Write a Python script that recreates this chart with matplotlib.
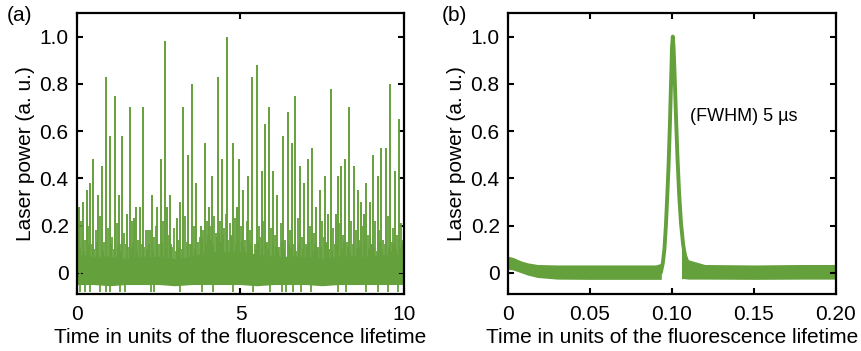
import matplotlib
matplotlib.use("Agg")
import matplotlib.pyplot as plt
import numpy as np

plt.rcParams['font.family'] = ['Liberation Sans', 'DejaVu Sans']

green = '#64a03c'

# ---- panel (a): spiky output ----
spike_t = [0.07, 0.19, 0.30, 0.40, 0.50, 0.65, 0.77, 0.90, 1.02, 1.15,
           1.27, 1.39, 1.53, 1.63, 1.75, 1.80, 1.93, 2.03, 2.29, 2.46,
           2.56, 2.68, 2.75, 2.85, 3.05, 3.15, 3.23, 3.39, 3.52, 3.64,
           3.80, 3.91, 4.03, 4.13, 4.30, 4.43, 4.60, 4.76, 4.88, 4.96,
           5.09, 5.24, 5.36, 5.49, 5.65, 5.75, 5.88, 6.00, 6.12, 6.31,
           6.44, 6.57, 6.67, 6.82, 6.94, 7.07, 7.19, 7.32, 7.43, 7.59,
           7.69, 7.77, 7.93, 7.99, 8.07, 8.20, 8.32, 8.47, 8.58, 8.68,
           8.78, 8.85, 8.95, 9.05, 9.19, 9.31, 9.44, 9.56, 9.71, 9.84]
spike_h = [0.28, 0.30, 0.35, 0.38, 0.48, 0.33, 0.45, 0.83, 0.58, 0.75,
           0.33, 0.58, 0.25, 0.70, 0.23, 0.28, 0.28, 0.70, 0.33, 0.28,
           0.48, 0.98, 0.28, 0.33, 0.23, 0.30, 0.70, 0.50, 0.80, 0.38,
           0.20, 0.55, 0.28, 0.41, 0.83, 0.48, 1.00, 0.55, 0.28, 0.48,
           0.35, 0.41, 0.83, 0.88, 0.43, 0.63, 0.70, 0.43, 0.33, 0.58,
           0.68, 0.55, 0.75, 0.45, 0.38, 0.48, 0.53, 0.28, 0.35, 0.41,
           0.25, 0.78, 0.25, 0.41, 0.45, 0.48, 0.70, 0.45, 0.35, 0.30,
           0.25, 0.38, 0.30, 0.50, 0.41, 0.53, 0.53, 0.80, 0.43, 0.65]

minor_t = [0.03, 0.13, 0.24, 0.35, 0.45, 0.57, 0.71, 0.83, 0.96, 1.08,
           1.21, 1.33, 1.45, 1.58, 1.69, 1.87, 1.98, 2.10, 2.17, 2.23,
           2.36, 2.41, 2.51, 2.62, 2.80, 2.92, 2.98, 3.10, 3.30, 3.45,
           3.58, 3.70, 3.75, 3.86, 3.97, 4.08, 4.19, 4.25, 4.37, 4.50,
           4.55, 4.68, 4.71, 4.82, 5.02, 5.15, 5.20, 5.30, 5.43, 5.56,
           5.60, 5.70, 5.82, 5.94, 6.06, 6.18, 6.24, 6.37, 6.50, 6.62,
           6.76, 6.88, 7.00, 7.13, 7.25, 7.38, 7.50, 7.55, 7.64, 7.83,
           7.88, 8.02, 8.13, 8.26, 8.39, 8.53, 8.63, 8.73, 8.90, 9.00,
           9.12, 9.25, 9.37, 9.50, 9.62, 9.66, 9.78, 9.90, 9.96]
minor_h = [0.16, 0.22, 0.14, 0.20, 0.12, 0.18, 0.24, 0.13, 0.19, 0.15,
           0.21, 0.12, 0.17, 0.11, 0.22, 0.14, 0.12, 0.18, 0.18, 0.18,
           0.15, 0.20, 0.12, 0.22, 0.16, 0.11, 0.19, 0.14, 0.24, 0.12,
           0.20, 0.13, 0.15, 0.18, 0.22, 0.20, 0.24, 0.17, 0.22, 0.19,
           0.25, 0.21, 0.16, 0.23, 0.20, 0.14, 0.22, 0.18, 0.12, 0.20,
           0.15, 0.22, 0.13, 0.19, 0.16, 0.11, 0.21, 0.14, 0.18, 0.12,
           0.23, 0.15, 0.12, 0.20, 0.17, 0.11, 0.22, 0.15, 0.13, 0.19,
           0.12, 0.21, 0.16, 0.13, 0.22, 0.18, 0.14, 0.20, 0.16, 0.12,
           0.22, 0.18, 0.14, 0.24, 0.13, 0.19, 0.16, 0.21, 0.14]

# small ripples just above the dense floor
ripple_t = [0.09, 0.21, 0.33, 0.52, 0.62, 0.80, 1.05, 1.12, 1.24, 1.36,
            1.50, 1.66, 1.72, 1.84, 2.06, 2.14, 2.20, 2.32, 2.44, 2.59,
            2.71, 2.88, 3.02, 3.13, 3.20, 3.35, 3.48, 3.62, 3.78, 3.83,
            3.94, 4.00, 4.11, 4.16, 4.28, 4.33, 4.40, 4.47, 4.63, 4.74,
            4.85, 4.92, 5.05, 5.12, 5.27, 5.33, 5.46, 5.53, 5.67, 5.79,
            5.85, 5.98, 6.09, 6.15, 6.28, 6.34, 6.47, 6.54, 6.70, 6.79,
            6.91, 7.04, 7.10, 7.22, 7.29, 7.35, 7.47, 7.62, 7.72, 7.80,
            7.96, 8.10, 8.17, 8.30, 8.35, 8.44, 8.56, 8.66, 8.81, 8.93,
            9.03, 9.09, 9.16, 9.28, 9.34, 9.41, 9.53, 9.59, 9.69, 9.75, 9.87, 9.93]
ripple_h = [0.11, 0.09, 0.12, 0.10, 0.13, 0.09, 0.12, 0.10, 0.11, 0.09,
            0.12, 0.10, 0.13, 0.09, 0.11, 0.10, 0.12, 0.09, 0.11, 0.13,
            0.10, 0.12, 0.09, 0.11, 0.10, 0.13, 0.12, 0.10, 0.13, 0.15,
            0.12, 0.16, 0.14, 0.12, 0.15, 0.17, 0.13, 0.16, 0.14, 0.15,
            0.12, 0.14, 0.13, 0.11, 0.14, 0.12, 0.10, 0.13, 0.11, 0.12,
            0.10, 0.12, 0.11, 0.09, 0.13, 0.10, 0.12, 0.11, 0.09, 0.12,
            0.10, 0.11, 0.13, 0.09, 0.12, 0.10, 0.11, 0.12, 0.10, 0.09,
            0.12, 0.10, 0.13, 0.11, 0.09, 0.12, 0.10, 0.11, 0.13, 0.10,
            0.12, 0.11, 0.09, 0.13, 0.10, 0.12, 0.11, 0.09, 0.12, 0.10, 0.11, 0.12]

dip_t = [0.10, 0.26, 0.39, 0.71, 0.90, 1.02, 1.32, 1.47, 2.25, 2.36,
         3.15, 3.81, 4.17, 4.78, 5.39, 5.90, 6.26, 6.39, 6.61, 6.85,
         7.17, 7.99, 8.24, 8.85, 9.20, 9.50, 9.81]
dip_depth = -0.08

band_t = [0.0, 0.5, 1.0, 1.5, 2.0, 2.5, 3.0, 3.5, 4.0, 4.5,
          5.0, 5.5, 6.0, 6.5, 7.0, 7.5, 8.0, 8.5, 9.0, 9.5, 10.0]
band_hi = [0.08, 0.07, 0.07, 0.06, 0.07, 0.07, 0.06, 0.07, 0.09, 0.09,
           0.09, 0.08, 0.07, 0.07, 0.07, 0.06, 0.07, 0.07, 0.07, 0.08, 0.08]
band_lo = [-0.05, -0.05, -0.055, -0.05, -0.05, -0.05, -0.055, -0.05, -0.05, -0.05,
           -0.05, -0.055, -0.05, -0.05, -0.05, -0.055, -0.05, -0.05, -0.05, -0.05, -0.05]

# ---- panel (b): single pulse ----
peak_t = [0.0932, 0.0944, 0.0954, 0.0963, 0.0971, 0.0979, 0.0987, 0.0995, 0.1000,
          0.1005, 0.1010, 0.1017, 0.1025, 0.1034, 0.1044, 0.1055, 0.1068, 0.1082,
          0.1100]
peak_y = [0.00, 0.04, 0.10, 0.20, 0.32, 0.45, 0.62, 0.82, 0.95,
          1.00, 0.95, 0.82, 0.65, 0.48, 0.33, 0.21, 0.12, 0.06,
          0.02]

left_t = [0.0, 0.003, 0.008, 0.012, 0.018, 0.03, 0.05, 0.07, 0.09, 0.0935]
left_hi = [0.07, 0.065, 0.05, 0.042, 0.035, 0.033, 0.033, 0.033, 0.033, 0.04]
left_lo = [0.015, 0.012, 0.0, -0.01, -0.02, -0.027, -0.028, -0.028, -0.028, -0.028]
right_t = [0.1058, 0.1075, 0.110, 0.120, 0.150, 0.180, 0.200]
right_hi = [0.18, 0.10, 0.055, 0.035, 0.033, 0.035, 0.035]
right_lo = [-0.025, -0.025, -0.027, -0.027, -0.028, -0.027, -0.027]

fig = plt.figure(figsize=(8.62, 3.51), dpi=100)
ax1 = fig.add_axes([0.0893, 0.1624, 0.3794, 0.8006])
ax2 = fig.add_axes([0.5893, 0.1624, 0.3805, 0.8006])

ax1.fill_between(band_t, band_lo, band_hi, color=green, lw=0)
ax1.vlines(ripple_t, 0.0, ripple_h, color=green, lw=1.3)
ax1.vlines(minor_t, 0.0, minor_h, color=green, lw=1.3)
ax1.vlines(spike_t, 0.0, spike_h, color=green, lw=1.4)
ax1.vlines(dip_t, dip_depth, 0.0, color=green, lw=1.3)
ax1.set_xlim(0, 10)
ax1.set_ylim(-0.09, 1.1)
ax1.set_xticks([0, 5, 10])
ax1.set_xticklabels(['0', '5', '10'])

ax2.fill_between(left_t, left_lo, left_hi, color=green, lw=0)
ax2.fill_between(right_t, right_lo, right_hi, color=green, lw=0)
ax2.plot(peak_t, peak_y, color=green, lw=2.8, solid_joinstyle='round',
         solid_capstyle='round')
ax2.set_xlim(0, 0.2)
ax2.set_ylim(-0.09, 1.1)
ax2.set_xticks([0, 0.05, 0.10, 0.15, 0.20])
ax2.set_xticklabels(['0', '0.05', '0.10', '0.15', '0.20'])
ax2.text(0.111, 0.66, '(FWHM) 5 µs', fontsize=13, va='center', ha='left')

for ax in (ax1, ax2):
    ax.set_yticks([0, 0.2, 0.4, 0.6, 0.8, 1.0])
    ax.set_yticklabels(['0', '0.2', '0.4', '0.6', '0.8', '1.0'])
    ax.tick_params(direction='in', top=True, right=True, length=4, width=1.5,
                   labelsize=15, pad=6)
    ax.tick_params(axis='x', pad=8)
    for s in ax.spines.values():
        s.set_linewidth(1.6)
    ax.set_xlabel('Time in units of the fluorescence lifetime', fontsize=15, labelpad=3)
    ax.set_ylabel('Laser power (a. u.)', fontsize=15, labelpad=3)

fig.text(0.008, 0.955, '(a)', fontsize=15, va='center', ha='left')
fig.text(0.513, 0.955, '(b)', fontsize=15, va='center', ha='left')

fig.savefig('out.png', dpi=100)
